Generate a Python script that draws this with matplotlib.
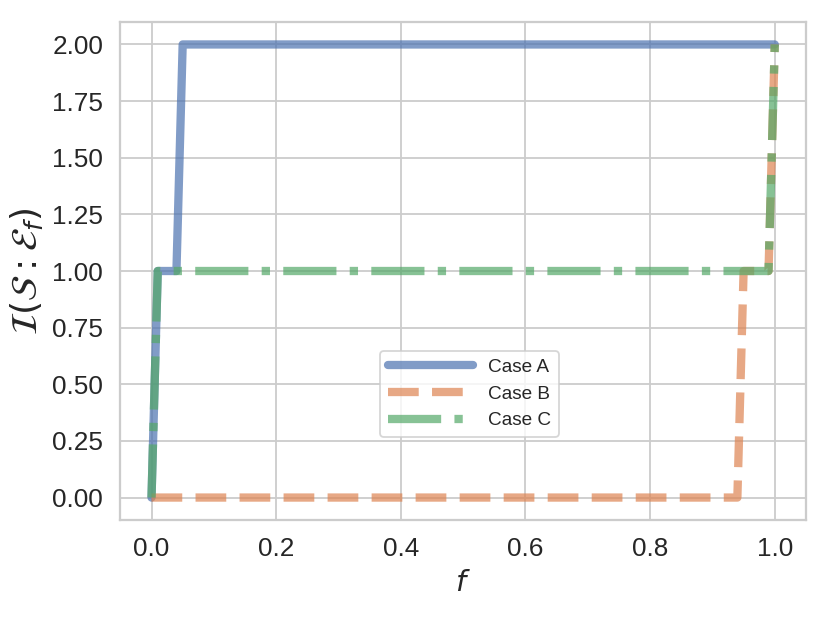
import matplotlib
matplotlib.use('Agg')
import matplotlib.pyplot as plt
import seaborn as sns

# data
f_a = [0.0, 0.01, 0.04, 0.05, 1.0]
i_a = [0.0, 1.0, 1.0, 2.0, 2.0]
f_b = [0.0, 0.94, 0.95, 0.99, 1.0]
i_b = [0.0, 0.0, 1.0, 1.0, 2.0]
f_c = [0.0, 0.01, 0.99, 1.0]
i_c = [0.0, 1.0, 1.0, 2.0]
labels = ['Case A', 'Case B', 'Case C']
yticks = [0.0, 0.25, 0.5, 0.75, 1.0, 1.25, 1.5, 1.75, 2.0]

sns.set_theme(style='whitegrid')
plt.rcParams['font.family'] = ['Liberation Sans', 'DejaVu Sans']
pal = sns.color_palette('deep')

fig, ax = plt.subplots(figsize=(830 / 130, 623 / 130), dpi=130)
fig.subplots_adjust(left=0.145, right=0.971, top=0.965, bottom=0.165)

ax.plot(f_a, i_a, '-', color=pal[0], lw=4.6, alpha=0.7, label=labels[0])
ax.plot(f_b, i_b, '--', color=pal[1], lw=4.6, alpha=0.7, label=labels[1])
ax.plot(f_c, i_c, '-.', color=pal[2], lw=4.6, alpha=0.7, label=labels[2])

ax.set_yticks(yticks)
ax.set_yticklabels(['%.2f' % y for y in yticks])
ax.tick_params(labelsize=14.5)
ax.set_xlabel(r'$f$', fontsize=16)
ax.set_ylabel(r'$\mathcal{I}(\mathcal{S}:\mathcal{E}_f)$', fontsize=20)
ax.legend(loc='center', bbox_to_anchor=(0.509, 0.253), fontsize=10.5,
          handlelength=4.5)

fig.savefig('out.png', dpi=130)
